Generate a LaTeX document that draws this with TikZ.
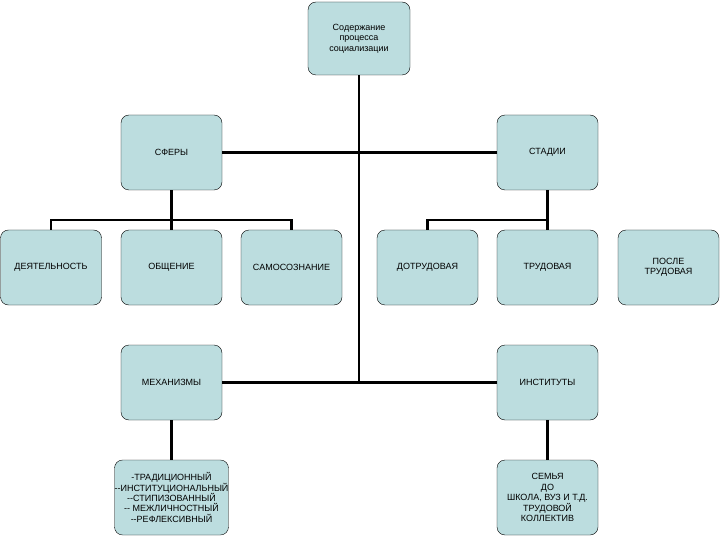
\documentclass[tikz,border=0pt]{standalone}
\usepackage{fontspec}
\setmainfont{Liberation Sans}
\usetikzlibrary{positioning}
\definecolor{boxfill}{HTML}{BCDDDF}
\tikzset{
  box/.style={rectangle,rounded corners=8pt,draw,fill=boxfill,minimum width=101pt,minimum height=75pt,font=\fontsize{9}{10.4}\selectfont,align=center,inner sep=0pt},
  link/.style={line width=2.2pt}
}
\begin{document}
\begin{tikzpicture}[x=1pt,y=-1pt]
                \useasboundingbox (0,0) rectangle (720,540);
                \node[box,minimum width=102pt,minimum height=73pt] (top) at (359,38.5) {Содержание\\процесса\\социализации};
        
                \node[box] (spheres) at (171.5,152.5) {СФЕРЫ};
                \node[box] (stages) at (547.5,152.5) {СТАДИИ};
        
                \node[box] (activity) at (51,267.5) {ДЕЯТЕЛЬНОСТЬ};
                \node[box] (talk) at (171.5,267.5) {ОБЩЕНИЕ};
                \node[box] (self) at (291.5,267.5) {САМОСОЗНАНИЕ};
                \node[box] (prework) at (427.5,267.5) {ДОТРУДОВАЯ};
                \node[box] (work) at (547.5,267.5) {ТРУДОВАЯ};
                \node[box] (postwork) at (668.5,267.5) {ПОСЛЕ\\ТРУДОВАЯ};
        
                \node[box] (mech) at (171.5,382.5) {МЕХАНИЗМЫ};
                \node[box] (inst) at (547.5,382.5) {ИНСТИТУТЫ};
        
                \node[box] (mechlist) at (171.5,497.5) {-ТРАДИЦИОННЫЙ\\{-}{-}ИНСТИТУЦИОНАЛЬНЫЙ\\{-}{-}СТИПИЗОВАННЫЙ\\{-}{-} МЕЖЛИЧНОСТНЫЙ\\{-}{-}РЕФЛЕКСИВНЫЙ};
                \node[box] (instlist) at (547.5,497.5) {СЕМЬЯ\\ДО\\ШКОЛА, ВУЗ И Т.Д.\\ТРУДОВОЙ\\КОЛЛЕКТИВ};
        
                \coordinate (hub) at (359,382.5);
                \draw[link] (top.south) -- (hub);
                \draw[link] (mech.east) -- (inst.west);
                \draw[link] (spheres.east) -- (stages.west);
                % bus lines
                \draw[link] (spheres.south) -- (talk.north);
                \draw[link] (activity.north) |- (self.north |- 0,220) -- (self.north);
                \draw[link] (prework.north) |- (work.north |- 0,220);
                \draw[link] (stages.south) -- (work.north);
                \draw[link] (mech.south) -- (mechlist.north);
                \draw[link] (inst.south) -- (instlist.north);
            \end{tikzpicture}
\end{document}
